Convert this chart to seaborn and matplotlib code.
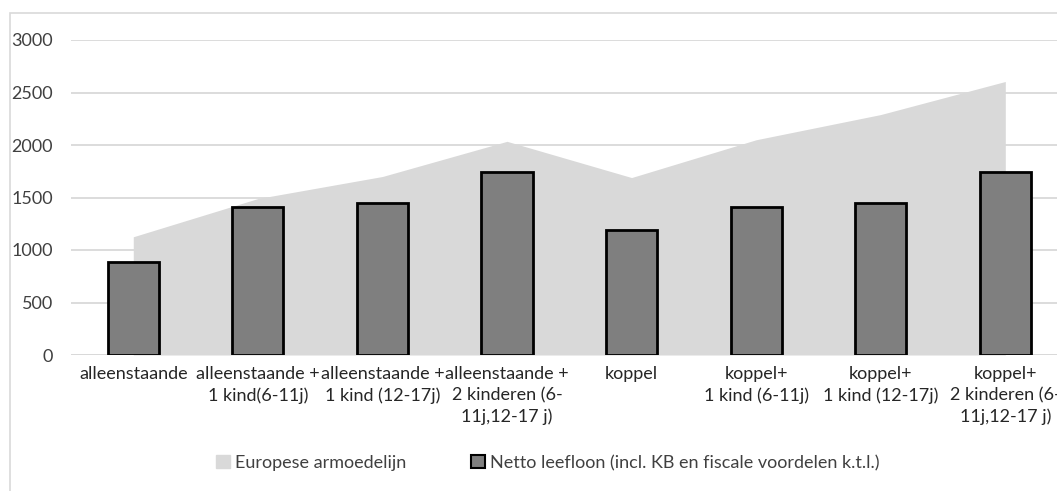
import matplotlib
matplotlib.use("Agg")
import matplotlib.pyplot as plt
import numpy as np
import pandas as pd
import seaborn as sns
from matplotlib.patches import Patch, Rectangle

# Categories (x axis)
categories = ["alleenstaande",
              "alleenstaande +\n1 kind(6-11j)",
              "alleenstaande +\n1 kind (12-17j)",
              "alleenstaande +\n2 kinderen (6-\n11j,12-17 j)",
              "koppel",
              "koppel+\n1 kind (6-11j)",
              "koppel+\n1 kind (12-17j)",
              "koppel+\n2 kinderen (6-\n11j,12-17 j)"]

# Series values
armoedelijn = [1126, 1490, 1700, 2035, 1690, 2050, 2290, 2605]
leefloon = [890, 1410, 1450, 1740, 1190, 1410, 1450, 1740]

yticks = [0, 500, 1000, 1500, 2000, 2500, 3000]

df = pd.DataFrame({"categorie": categories, "leefloon": leefloon})

sns.set_theme(style="white")
plt.rcParams['font.family'] = ['Lato', 'DejaVu Sans']

fig = plt.figure(figsize=(10.57, 4.91), dpi=100)
ax = fig.add_axes([71 / 1057, 136 / 491, 1 - 71 / 1057, 315 / 491])

# Area: Europese armoedelijn
pos = np.arange(len(categories))
ax.fill_between(pos, 0, armoedelijn, color="#d9d9d9", linewidth=0, zorder=1)

# Bars: netto leefloon
sns.barplot(data=df, x="categorie", y="leefloon", color="#7f7f7f",
            saturation=1, width=0.41, edgecolor="black", linewidth=2,
            ax=ax, zorder=3)

ax.set_ylim(0, 3000)
ax.set_xlim(-0.5, 7.415)
ax.set_yticks(yticks)
ax.set_yticklabels([str(v) for v in yticks], fontsize=13, color="#404040")
ax.yaxis.grid(True, color="#d9d9d9", linewidth=1.3, zorder=0)
ax.set_axisbelow(True)
ax.tick_params(axis="y", length=0, pad=13)
ax.tick_params(axis="x", length=0, pad=8)
ax.set_xticks(pos)
ax.set_xticklabels(categories, fontsize=13, color="#262626", linespacing=1.38)
ax.set_xlabel("")
ax.set_ylabel("")
for s in ax.spines.values():
    s.set_visible(False)
ax.axhline(0, color="#d9d9d9", linewidth=1.3, zorder=2)

# Outer chart frame
fig.patches.append(Rectangle((10 / 1057, -0.1), 1.2, (491 - 13) / 491 + 0.1,
                             transform=fig.transFigure, fill=False,
                             edgecolor="#d9d9d9", linewidth=1.2))

handles = [Patch(facecolor="#d9d9d9", edgecolor="#d9d9d9", label="Europese armoedelijn"),
           Patch(facecolor="#7f7f7f", edgecolor="black", linewidth=1.5,
                 label="Netto leefloon (incl. KB en fiscale voordelen k.t.l.)")]
fig.legend(handles=handles, loc="center", bbox_to_anchor=(548 / 1057, 28 / 491),
           ncol=2, frameon=False, fontsize=13, handlelength=0.75, handleheight=0.75,
           handletextpad=0.3, columnspacing=3.6, labelcolor="#404040")

fig.savefig("out.png", dpi=100)
